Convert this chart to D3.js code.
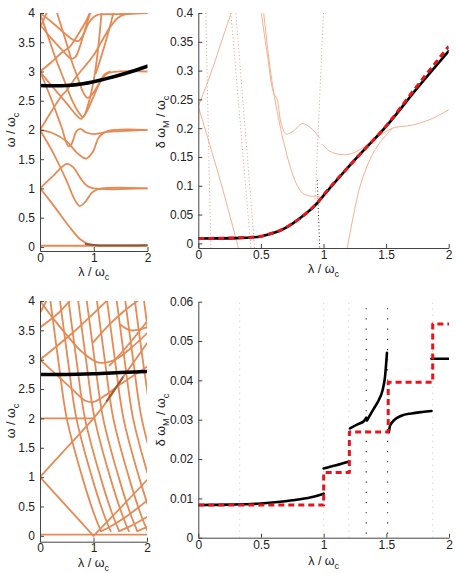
<!DOCTYPE html>
<html>
<head>
<meta charset="utf-8">
<script src="https://cdn.jsdelivr.net/npm/d3@7"></script>
<style>
  body { margin: 0; background: #fff; }
  text { font-family: "Liberation Sans", Arial, sans-serif; fill: #222; }
</style>
</head>
<body>
<svg id="fig" width="457" height="573"></svg>
<script>
// ---- data ----
// top-left: spectrum omega/omega_c vs lambda/omega_c
var tlCurves = [
  [[0,0.02],[2,0.02]],
  [[0,1],[0.15,0.83],[0.3,0.65],[0.55,0.34],[0.75,0.13],[0.9,0.05],[1.05,0.03],[2,0.03]],
  [[0,1],[0.25,1.22],[0.5,1.42],[0.62,1.36],[0.75,1.18],[0.88,1.04],[1.0,1.0],[2,1.0]],
  [[0,2],[0.25,1.6],[0.5,1.12],[0.65,0.8],[0.74,0.7],[0.85,0.78],[0.98,0.94],[1.15,1.0],[2,1.0]],
  [[0,2],[0.25,1.94],[0.5,1.8],[0.7,1.6],[0.86,1.51],[0.98,1.62],[1.1,1.88],[1.25,1.98],[2,2.0]],
  [[0,3],[0.2,2.55],[0.4,2.05],[0.53,1.72],[0.58,1.75],[0.68,1.98],[0.75,2.02],[0.85,1.96],[1.0,1.93],[1.2,1.96],[2,2.0]],
  [[0,2],[0.2,2.3],[0.4,2.58],[0.5,2.68],[0.65,2.88],[0.8,3.05],[1.0,3.28],[1.15,3.52],[1.3,3.75],[1.45,3.92],[1.6,3.98],[2,4.0]],
  [[0,3],[0.25,2.72],[0.5,2.45],[0.68,2.25],[0.76,2.19],[0.86,2.3],[1.0,2.58],[1.12,2.82],[1.25,2.96],[1.5,3.0],[2,3.0]],
  [[0,4],[0.15,3.6],[0.3,3.2],[0.45,2.85],[0.6,2.5],[0.72,2.3],[0.8,2.22],[0.9,2.45],[1.0,2.85],[1.07,3.3],[1.12,3.75],[1.15,4.05]],
  [[0,3],[0.2,3.15],[0.4,3.32],[0.55,3.42],[0.7,3.62],[0.85,3.85],[0.95,4.05]],
  [[0,4],[0.2,3.86],[0.45,3.66],[0.62,3.54],[0.71,3.52],[0.8,3.62],[0.92,3.85],[1.05,3.96],[1.4,3.98],[2,4.0]],
  [[0,3.8],[0.2,3.58],[0.4,3.38],[0.58,3.22],[0.66,3.25],[0.75,3.45],[0.85,3.75],[0.95,4.05]],
  [[0,3.75],[0.1,3.95],[0.15,4.05]],
  [[0.3,4.05],[0.42,3.7],[0.52,3.4],[0.6,3.15],[0.7,2.9],[0.8,2.65],[0.88,2.55],[0.98,2.62],[1.1,2.8],[1.2,2.95],[1.3,3.0]],
  [[1.38,4.05],[1.25,3.6],[1.12,3.2],[1.04,2.97]]
];
var tlDark = [[0.85,0.05],[1.05,0.03],[2,0.03]];
var tlBlack = [[0,2.76],[0.3,2.755],[0.5,2.76],[0.8,2.79],[1.2,2.87],[1.6,2.97],[2,3.09]];

// top-right: delta omega_M / omega_c
var trBlack = [[0,0.0085],[0.3,0.0092],[0.5,0.012],[0.55,0.015],[0.65,0.022],[0.75,0.034],[0.85,0.05],[0.95,0.07],[1.0,0.083],[1.25,0.145],[1.5,0.203],[1.75,0.27],[2.0,0.334]];
var trRed = [[0,0.0085],[0.3,0.0095],[0.5,0.0123],[0.55,0.0152],[0.65,0.0222],[0.75,0.0342],[0.85,0.0502],[0.95,0.0705],[1.0,0.084],[1.25,0.145],[1.5,0.204],[1.75,0.274],[2.0,0.342]];
var trThin = [
  [[0,0.238],[0.1,0.165],[0.2,0.09],[0.32,-0.008]],
  [[0,0.238],[0.1,0.295],[0.2,0.36],[0.27,0.405]],
  [[0.5,0.405],[0.55,0.33],[0.6,0.262],[0.63,0.25],[0.66,0.21],[0.7,0.19],[0.76,0.195],[0.83,0.208],[0.9,0.2],[0.97,0.183]],
  [[0.99,0.172],[1.05,0.16],[1.15,0.154],[1.25,0.158],[1.4,0.18],[1.55,0.2],[1.7,0.205],[1.85,0.215],[2.0,0.232]],
  [[0.52,0.405],[0.57,0.31],[0.62,0.24],[0.7,0.16],[0.77,0.11],[0.82,0.09],[0.85,0.085],[0.9,0.082],[0.97,0.082]],
  [[1.19,-0.008],[1.25,0.06],[1.3,0.105],[1.38,0.15],[1.45,0.175],[1.55,0.2]]
];
var trDots = [
  [[0.06,0.4],[0.1,-0.008]],
  [[0.26,0.4],[0.42,-0.008]],
  [[1.0,0.4],[0.93,0.06]],
  [[0.45,-0.008],[0.3,0.4]]
];
var trDarkDots = [[0.95,0.11],[0.97,-0.008]];

// bottom-left: spectrum
var blCurves = [
  [[0,0.02],[2,0.02]],
  [[0,1],[1,0]],
  [[0,2],[1,2]],
  [[0,1],[0.5,1.5],[1,2],[1.3,2.35],[1.55,2.7],[1.8,3.02],[2,3.28]],
  [[0.18,4.1],[0.34,3],[0.5,2],[0.79,1],[1.02,0.35],[1.14,0.08]],
  [[0.36,4.1],[0.52,3],[0.68,2],[0.97,1],[1.2,0.35],[1.32,0.08]],
  [[0.52,4.1],[0.68,3],[0.84,2],[1.13,1],[1.36,0.35],[1.48,0.08]],
  [[0.7,4.1],[0.86,3],[1.02,2],[1.31,1],[1.54,0.35],[1.66,0.08]],
  [[0.86,4.1],[1.02,3],[1.18,2],[1.47,1],[1.7,0.35],[1.82,0.08]],
  [[1.05,4.1],[1.21,3],[1.37,2],[1.66,1],[1.89,0.35],[2.01,0.08]],
  [[1.24,4.1],[1.4,3],[1.56,2],[1.85,1],[2.08,0.35]],
  [[1.42,4.1],[1.58,3],[1.74,2],[2.03,1]],
  [[1.58,4.1],[1.74,3],[1.9,2],[2.19,1]],
  [[1.76,4.1],[1.92,3],[2.08,2]],
  [[1.93,4.1],[2.09,3]],
  [[1.0,0],[1.5,0.47],[2.0,0.95]],
  [[1.14,0.08],[1.3,0.15],[1.6,0.32],[2,0.6]],
  [[1.48,0.08],[1.7,0.17],[2,0.32]],
  [[1.82,0.08],[2,0.15]],
  [[0,3],[0.6,3.45],[1.3,4.05]],
  [[0,3.55],[0.35,3.8],[0.6,4.05]],
  [[0,3],[0.3,2.75],[0.6,2.5],[0.85,2.3],[1.0,2.28],[1.2,2.38],[1.5,2.58],[1.8,2.76],[2,2.88]],
  [[0,4],[0.25,3.7],[0.5,3.42],[0.8,3.12],[1.1,2.95],[1.4,3.0],[1.7,3.2],[2,3.45]],
  [[0,3.8],[0.15,4.05]],
  [[1.0,3.3],[1.3,3.6],[1.6,3.85],[1.9,4.05]],
  [[1.3,2.9],[1.6,3.2],[2.0,3.65]],
  [[1.5,3.6],[1.7,3.5],[2.0,3.55]]
];
var blDark = [[1.25,2.3],[1.55,2.7]];
var blBlack = [[0,2.75],[0.5,2.75],[1.0,2.76],[1.5,2.78],[2,2.8]];

// bottom-right
var brBlack = [
  [[0,0.0083],[0.25,0.0084],[0.5,0.0087],[0.75,0.0095],[0.9,0.0103],[1.0,0.0112]],
  [[1.0,0.0176],[1.1,0.0184],[1.2,0.0193]],
  [[1.21,0.0278],[1.27,0.0288],[1.32,0.0296],[1.34,0.0305]],
  [[1.345,0.0298],[1.4,0.0328],[1.44,0.035],[1.47,0.0375],[1.49,0.041],[1.505,0.047]],
  [[1.52,0.0268],[1.53,0.0285],[1.56,0.0298],[1.62,0.031],[1.7,0.0316],[1.8,0.032],[1.86,0.0322]],
  [[1.86,0.0455],[2.0,0.0455]]
];
var brStepX = [0, 1.0, 1.205, 1.515, 1.87, 2.0];
var brStepY = [0.0083, 0.0166, 0.0269, 0.0395, 0.0543, 0.0543];
var brFaintX = [0.33, 1.0, 1.2, 1.87];
var brDarkX = [1.34, 1.51];

var lamTicks = [0, 1, 2];
var lamTicks2 = [0, 0.5, 1, 1.5, 2];
var omTicks = [0, 0.5, 1, 1.5, 2, 2.5, 3, 3.5, 4];
var trTicks = [0, 0.05, 0.1, 0.15, 0.2, 0.25, 0.3, 0.35, 0.4];
var brTicks = [0, 0.01, 0.02, 0.03, 0.04, 0.05, 0.06];

var orange = "#e68a55";
var svg = d3.select("#fig");

function panel(p) {
  var x = d3.scaleLinear().domain([0, 2]).range([p.left, p.right]);
  var y = d3.scaleLinear().domain(p.ydom).range([p.bottom, p.top]);

  svg.append("clipPath").attr("id", p.id)
    .append("rect")
    .attr("x", p.left).attr("y", p.top)
    .attr("width", p.right - p.left).attr("height", p.bottom - p.top);

  var g = svg.append("g").attr("clip-path", "url(#" + p.id + ")");

  var xAxis = d3.axisBottom(x).tickValues(p.xticks).tickSizeInner(-4).tickSizeOuter(0)
    .tickPadding(p.xpad).tickFormat(d3.format(""));
  var yAxis = d3.axisLeft(y).tickValues(p.yticks).tickSizeInner(-4).tickSizeOuter(0)
    .tickPadding(5).tickFormat(d3.format(""));

  var ax = svg.append("g").attr("transform", "translate(0," + p.bottom + ")").call(xAxis);
  var ay = svg.append("g").attr("transform", "translate(" + p.left + ",0)").call(yAxis);
  [ax, ay].forEach(function (a) {
    a.select(".domain").attr("stroke", "#444");
    a.selectAll(".tick line").attr("stroke", "#444");
    a.selectAll("text").style("font-size", "12px").attr("fill", "#222");
  });

  var xl = svg.append("text")
    .attr("x", (p.left + p.right) / 2).attr("y", p.xlabY)
    .attr("text-anchor", "middle").style("font-size", "12.5px");
  xl.append("tspan").text("λ / ω");
  xl.append("tspan").text("c").attr("dy", 3.5).style("font-size", "9px");

  var yl = svg.append("text")
    .attr("transform", "translate(" + p.ylabX + "," + p.ylabY + ") rotate(-90)")
    .attr("text-anchor", "middle").style("font-size", "12.5px");
  p.ylab.forEach(function (s) {
    var t = yl.append("tspan").text(s[0]);
    if (s[1]) t.attr("dy", s[1]).style("font-size", s[2]);
  });

  return { g: g, x: x, y: y };
}

function drawLine(P, pts, stroke, width, dash, curve) {
  var line = d3.line()
    .x(function (d) { return P.x(d[0]); })
    .y(function (d) { return P.y(d[1]); })
    .curve(curve || d3.curveCatmullRom.alpha(0.5));
  P.g.append("path").datum(pts)
    .attr("d", line)
    .attr("fill", "none")
    .attr("stroke", stroke)
    .attr("stroke-width", width)
    .attr("stroke-dasharray", dash || null)
    .attr("stroke-linejoin", "round")
    .attr("stroke-linecap", dash ? "butt" : "round");
}

// ---- top-left ----
var TL = panel({ id: "c1", left: 40, right: 147.5, top: 13, bottom: 251, ydom: [-0.07, 4],
  xticks: lamTicks, yticks: omTicks, xpad: 2, xlabY: 276, ylabX: 15, ylabY: 130,
  ylab: [["ω / ω"], ["c", 3.5, "9px"]] });
tlCurves.forEach(function (c) { drawLine(TL, c, orange, 1.8); });
drawLine(TL, tlDark, "#8a5a3c", 2);
drawLine(TL, tlBlack, "#000", 3.5, null, d3.curveMonotoneX);

// ---- top-right ----
var TR = panel({ id: "c2", left: 198.3, right: 448.7, top: 13, bottom: 248, ydom: [-0.008, 0.4],
  xticks: lamTicks2, yticks: trTicks, xpad: 2, xlabY: 273, ylabX: 165, ylabY: 122,
  ylab: [["δ ω"], ["M", 3.5, "9px"], [" / ω", -3.5, "12.5px"], ["c", 3.5, "9px"]] });
trDots.forEach(function (c) { drawLine(TR, c, "#d9a58a", 1, "1,2.5", d3.curveLinear); });
drawLine(TR, trDarkDots, "#333", 1, "1,2.5", d3.curveLinear);
trThin.forEach(function (c) { drawLine(TR, c, "#f0a882", 0.9); });
drawLine(TR, trBlack, "#000", 2.6, null, d3.curveMonotoneX);
drawLine(TR, trRed, "#e8141c", 3, "6,4", d3.curveMonotoneX);

// ---- bottom-left ----
var BL = panel({ id: "c3", left: 40, right: 147, top: 301, bottom: 541.7, ydom: [-0.1, 4],
  xticks: lamTicks, yticks: omTicks, xpad: 2, xlabY: 567, ylabX: 15, ylabY: 421,
  ylab: [["ω / ω"], ["c", 3.5, "9px"]] });
blCurves.forEach(function (c) { drawLine(BL, c, orange, 1.8); });
drawLine(BL, blDark, "#9b5a30", 2);
drawLine(BL, blBlack, "#000", 3.5, null, d3.curveMonotoneX);

// ---- bottom-right ----
var BR = panel({ id: "c4", left: 198.3, right: 449, top: 301.7, bottom: 537.7, ydom: [0, 0.06],
  xticks: lamTicks2, yticks: brTicks, xpad: 3, xlabY: 565, ylabX: 165, ylabY: 420,
  ylab: [["δ ω"], ["M", 3.5, "9px"], [" / ω", -3.5, "12.5px"], ["c", 3.5, "9px"]] });
BR.g.selectAll(".faint").data(brFaintX).enter().append("line")
  .attr("x1", function (d) { return BR.x(d); }).attr("x2", function (d) { return BR.x(d); })
  .attr("y1", BR.y(0)).attr("y2", BR.y(0.06))
  .attr("stroke", "#bbb").attr("stroke-width", 0.8).attr("stroke-dasharray", "1,5");
BR.g.selectAll(".dark").data(brDarkX).enter().append("line")
  .attr("x1", function (d) { return BR.x(d); }).attr("x2", function (d) { return BR.x(d); })
  .attr("y1", BR.y(0.001)).attr("y2", BR.y(0.06))
  .attr("stroke", "#333").attr("stroke-width", 1.2).attr("stroke-dasharray", "1.2,9");
brBlack.forEach(function (c) { drawLine(BR, c, "#000", 2.6, null, d3.curveMonotoneX); });
var steps = brStepX.map(function (v, i) { return [v, brStepY[i]]; });
drawLine(BR, steps, "#e8141c", 3, "6,4", d3.curveStepAfter);
</script>
</body>
</html>
